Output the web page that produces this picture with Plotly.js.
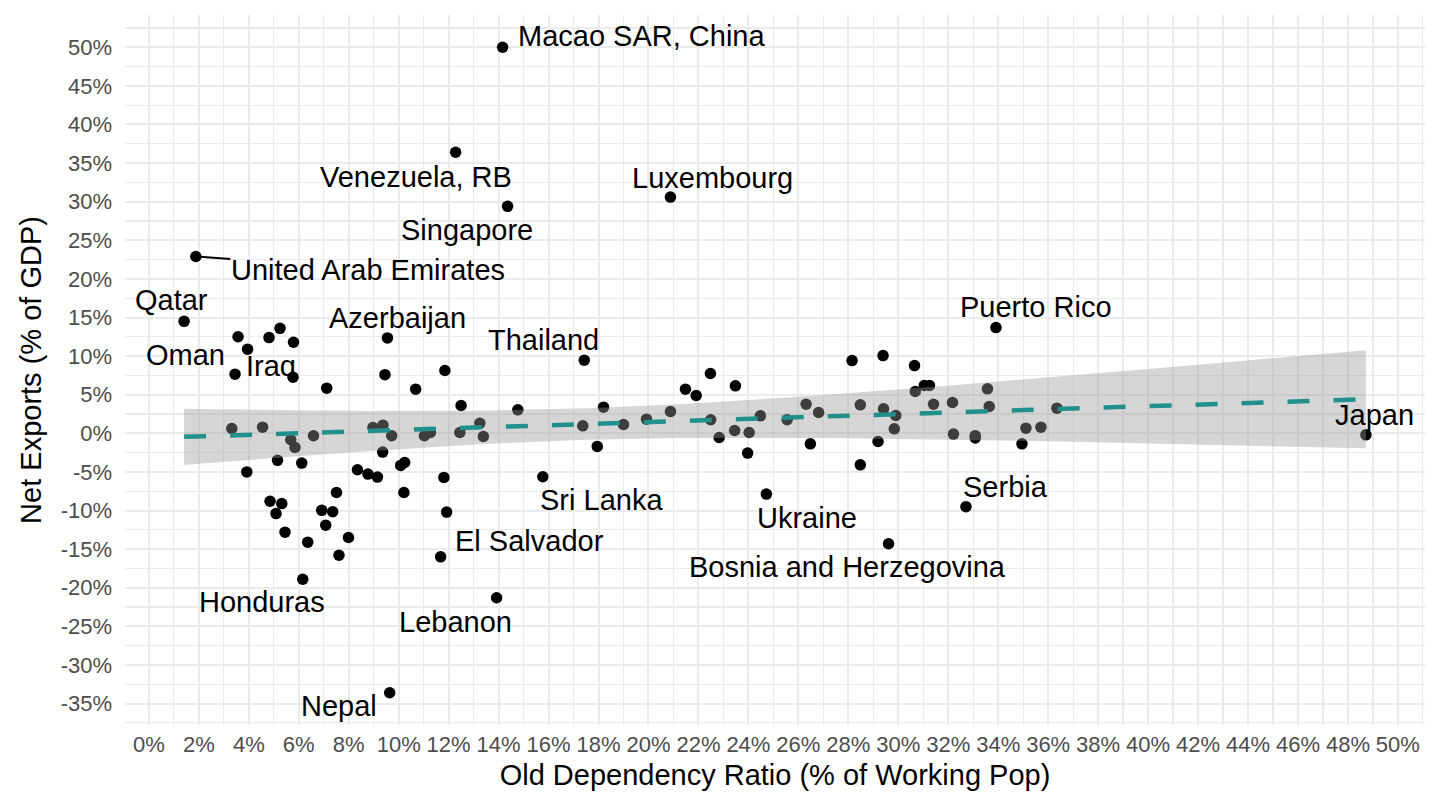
<!DOCTYPE html>
<html>
<head>
<meta charset="utf-8">
<script src="https://cdn.plot.ly/plotly-3.0.1.min.js"></script>
<style>html,body{margin:0;padding:0;background:#fff;}#chart{width:1440px;height:810px;}</style>
</head>
<body>
<div id="chart"></div>
<script>
// Old dependency ratio (% of working-age population)
const oldDep = [
  1.88, 1.41, 3.57, 3.95, 3.45, 4.81, 5.25, 5.79, 5.77, 7.12,
  9.55, 9.45, 10.68, 11.85, 12.50, 3.32, 4.55, 5.68, 5.85, 6.59,
  8.97, 9.37, 9.72, 11.03, 11.27, 12.45, 9.36, 5.15, 6.12, 3.92,
  8.35, 8.77, 9.15, 10.08, 10.24, 11.81, 4.85, 5.32, 5.09, 7.51,
  6.92, 7.36, 7.08, 5.45, 6.36, 7.99, 7.61, 10.21, 11.92, 11.68,
  6.16, 14.77, 17.43, 18.20, 17.37, 19.00, 17.95, 15.77, 13.25, 13.39,
  19.92, 20.88, 21.48, 21.91, 22.48, 22.49, 22.83, 23.48, 23.45, 24.03,
  23.97, 24.48, 24.72, 25.55, 26.31, 26.48, 26.81, 28.15, 28.48, 28.48,
  29.39, 30.65, 33.91, 29.41, 29.90, 29.84, 29.19, 29.61, 30.68, 31.04,
  31.25, 31.41, 32.17, 32.21, 33.08, 33.08, 33.57, 33.64, 32.71, 34.95,
  35.11, 35.71, 36.35, 48.72, 14.16, 12.28, 14.36, 20.88, 13.92, 9.64
];
// Net exports (% of GDP)
const netExp = [
  22.9, 14.5, 12.5, 10.9, 7.66, 12.4, 13.6, 11.8, 7.27, 5.85,
  12.36, 7.6, 5.72, 8.13, 3.6, 0.63, 0.8, -0.84, -1.84, -0.32,
  0.75, 1.06, -0.32, -0.32, 0.1, 0.1, -2.43, -3.5, -3.86, -5.0,
  -4.72, -5.28, -5.67, -4.16, -3.78, -5.71, -8.8, -9.1, -10.4, -7.66,
  -9.98, -10.16, -11.9, -12.8, -14.1, -13.5, -15.8, -7.66, -10.2, -16.0,
  -18.9, 3.04, 9.47, 3.39, 0.97, 1.14, -1.7, -5.63, 1.31, -0.41,
  1.83, 2.82, 5.72, 4.9, 7.74, 1.75, -0.54, 6.15, 0.37, 0.1,
  -2.56, 2.26, -7.87, 1.75, 3.77, -1.36, 2.69, 9.42, 3.69, -4.08,
  10.07, 8.77, 13.69, 3.17, 2.31, 0.58, -1.06, -14.3, 5.41, 6.19,
  6.19, 3.77, 3.99, -0.1, -0.3, -0.6, 5.76, 3.47, -9.5, -1.36,
  0.67, 0.8, 3.26, -0.2, 50.0, 36.4, 29.4, 30.6, -21.3, -33.6
];
// Country labels (empty = unlabeled point)
const country = new Array(oldDep.length).fill('');
const labeledIdx = [0, 1, 3, 4, 10, 49, 50, 52, 57, 72, 82, 87, 98, 103, 104, 105, 106, 107, 108, 109];
const labeledNames = [
  'United Arab Emirates', 'Qatar', 'Iraq', 'Oman', 'Azerbaijan', 'El Salvador', 'Honduras',
  'Thailand', 'Sri Lanka', 'Ukraine', 'Puerto Rico', 'Bosnia and Herzegovina', 'Serbia',
  'Japan', 'Macao SAR, China', 'Venezuela, RB', 'Singapore', 'Luxembourg', 'Lebanon', 'Nepal'
];
labeledIdx.forEach((k, j) => { country[k] = labeledNames[j]; });

// Tick labels
const xTickVals = [];
const xTickLabels = [];
for (let v = 0; v <= 50; v += 2) { xTickVals.push(v); xTickLabels.push(v + '%'); }
const yTickVals = [];
const yTickLabels = [];
for (let v = -35; v <= 50; v += 5) { yTickVals.push(v); yTickLabels.push(v + '%'); }

// Label placement (pixel offsets of label centre from its point) - layout only
const labelOffsets = {
  'Macao SAR, China': [139, -11],
  'Venezuela, RB': [-40, 25],
  'Singapore': [-41, 24],
  'Luxembourg': [42, -19],
  'United Arab Emirates': [172, 13],
  'Qatar': [-13, -21],
  'Oman': [-50, -19],
  'Iraq': [23, 17],
  'Azerbaijan': [10, -20],
  'Thailand': [-41, -20],
  'Puerto Rico': [40, -21],
  'Japan': [9, -20],
  'Serbia': [40, -20],
  'Ukraine': [41, 24],
  'Bosnia and Herzegovina': [-41, 23],
  'Sri Lanka': [59, 23],
  'El Salvador': [89, -16],
  'Lebanon': [-41, 24],
  'Honduras': [-41, 23],
  'Nepal': [-51, 13]
};

// Linear fit with 95% confidence band (computed from data)
const n = oldDep.length;
const mx = oldDep.reduce((a, b) => a + b, 0) / n;
const my = netExp.reduce((a, b) => a + b, 0) / n;
let sxx = 0, sxy = 0;
for (let i = 0; i < n; i++) { sxx += (oldDep[i] - mx) ** 2; sxy += (oldDep[i] - mx) * (netExp[i] - my); }
const slope = sxy / sxx;
const intercept = my - slope * mx;
let sse = 0;
for (let i = 0; i < n; i++) { sse += (netExp[i] - intercept - slope * oldDep[i]) ** 2; }
const sres = Math.sqrt(sse / (n - 2));
const tq = 1.982;
const xmin = Math.min(...oldDep), xmax = Math.max(...oldDep);
const fx = [], fy = [], lo = [], hi = [];
for (let k = 0; k < 80; k++) {
  const xv = xmin + (xmax - xmin) * k / 79;
  const yv = intercept + slope * xv;
  const se = sres * Math.sqrt(1 / n + (xv - mx) ** 2 / sxx);
  fx.push(xv); fy.push(yv); lo.push(yv - tq * se); hi.push(yv + tq * se);
}

const ymin = Math.min(...netExp), ymax = Math.max(...netExp);
const xpad = (xmax - xmin) * 0.05, ypad = (ymax - ymin) * 0.05;

const FONT = 'Liberation Sans, Arial, Helvetica, sans-serif';

const traces = [
  {
    type: 'scatter', mode: 'markers', x: oldDep, y: netExp,
    marker: { color: '#000000', size: 11.5, line: { width: 0 } },
    hoverinfo: 'skip', showlegend: false
  },
  {
    type: 'scatter', mode: 'lines',
    x: fx.concat(fx.slice().reverse()), y: hi.concat(lo.slice().reverse()),
    fill: 'toself', fillcolor: 'rgba(153,153,153,0.4)', line: { width: 0, color: 'rgba(0,0,0,0)' },
    hoverinfo: 'skip', showlegend: false
  },
  {
    type: 'scatter', mode: 'lines', x: fx, y: fy,
    line: { color: '#21908C', width: 4.5, dash: '22px,24px' },
    hoverinfo: 'skip', showlegend: false
  }
];

const annotations = [];
for (let i = 0; i < n; i++) {
  if (!country[i]) continue;
  const off = labelOffsets[country[i]] || [0, -20];
  const isSeg = country[i] === 'United Arab Emirates';
  annotations.push({
    x: oldDep[i], y: netExp[i], xref: 'x', yref: 'y',
    text: country[i], showarrow: true, ax: off[0], ay: off[1],
    arrowhead: 0, arrowwidth: isSeg ? 2 : 0.1, standoff: isSeg ? 4 : 0,
    arrowcolor: isSeg ? '#000000' : 'rgba(0,0,0,0)',
    font: { family: FONT, size: 29, color: '#000000' },
    borderpad: 0
  });
}

const gridMajor = '#ebebeb';
const layout = {
  width: 1440, height: 810,
  margin: { l: 125, r: 15, t: 15, b: 85 },
  paper_bgcolor: '#ffffff', plot_bgcolor: '#ffffff',
  font: { family: FONT, color: '#000000' },
  showlegend: false,
  xaxis: {
    range: [xmin - xpad, xmax + xpad],
    tickmode: 'array', tickvals: xTickVals, ticktext: xTickLabels,
    tickfont: { family: FONT, size: 22, color: '#4d4d4d' },
    showgrid: true, gridcolor: gridMajor, gridwidth: 2,
    minor: { tickmode: 'linear', tick0: 0, dtick: 1, showgrid: true, gridcolor: gridMajor, gridwidth: 1.2, ticks: '' },
    zeroline: false, showline: false, ticks: '', ticklabelstandoff: 4,
    title: { text: 'Old Dependency Ratio (% of Working Pop)', font: { family: FONT, size: 29, color: '#000000' }, standoff: 8 }
  },
  yaxis: {
    range: [ymin - ypad, ymax + ypad],
    tickmode: 'array', tickvals: yTickVals, ticktext: yTickLabels,
    tickfont: { family: FONT, size: 22, color: '#4d4d4d' },
    showgrid: true, gridcolor: gridMajor, gridwidth: 2,
    minor: { tickmode: 'linear', tick0: 0, dtick: 2.5, showgrid: true, gridcolor: gridMajor, gridwidth: 1.2, ticks: '' },
    zeroline: false, showline: false, ticks: '', ticklabelstandoff: 12,
    title: { text: 'Net Exports (% of GDP)', font: { family: FONT, size: 29, color: '#000000' }, standoff: 10 }
  },
  annotations: annotations
};

Plotly.newPlot('chart', traces, layout, { staticPlot: true, displayModeBar: false });
</script>
</body>
</html>
